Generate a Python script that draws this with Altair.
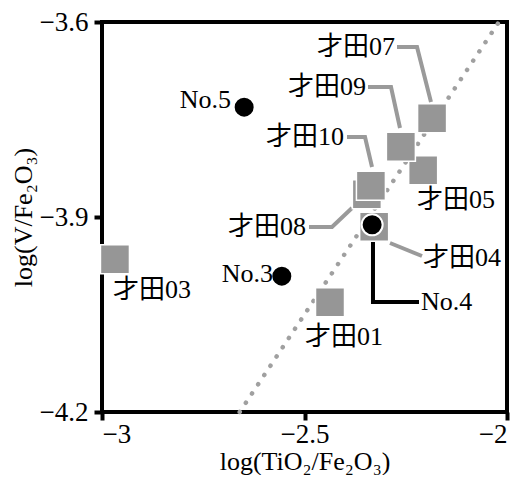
import altair as alt
import pandas as pd

FONT = '"Liberation Serif", "Noto Sans CJK JP", serif'
GRAY = "#969696"

# Squares (才田 samples) - drawing order matters for overlaps
sq_names = ["才田01", "才田03", "才田04", "才田05", "才田08", "才田10", "才田09", "才田07"]
sq_x = [-2.437, -2.968, -2.328, -2.207, -2.346, -2.336, -2.262, -2.185]
sq_y = [-4.031, -3.965, -3.915, -3.828, -3.865, -3.852, -3.792, -3.748]

# Circles (No. samples)
ci_names = ["No.3", "No.4", "No.5"]
ci_x = [-2.556, -2.333, -2.649]
ci_y = [-3.991, -3.912, -3.731]

# Dotted reference line
ref_x = [-2.66, -2.02]
ref_y = [-4.2, -3.6]

# Leader lines (label -> point)
lead_id = ["07", "07", "07", "09", "09", "09", "10", "10", "10", "08", "08", "08", "04", "04"]
lead_x = [-2.2716, -2.2222, -2.1877, -2.3432, -2.2864, -2.2642, -2.3951, -2.3506, -2.3333,
          -2.4889, -2.4321, -2.3827, -2.2889, -2.2099]
lead_y = [-3.6385, -3.6385, -3.7231, -3.700, -3.700, -3.7631, -3.7769, -3.7769, -3.8231,
          -3.9154, -3.9154, -3.8862, -3.940, -3.960]
no4_x = [-2.3309, -2.3309, -2.2173]
no4_y = [-3.9354, -4.0308, -4.0308]

# Labels
lab_r_text = ["才田07", "才田09", "才田10", "才田08", "No.5", "No.3"]
lab_r_x = [-2.2765, -2.3481, -2.4025, -2.4963, -2.6815, -2.5778]
lab_r_y = [-3.6385, -3.700, -3.7769, -3.9154, -3.720, -3.9877]
lab_l_text = ["才田04", "No.4", "才田05", "才田01", "才田03"]
lab_l_x = [-2.2074, -2.2123, -2.2222, -2.4988, -2.9728]
lab_l_y = [-3.963, -4.0308, -3.8738, -4.0846, -4.0123]

sq = pd.DataFrame({"name": sq_names, "x": sq_x, "y": sq_y, "o": range(len(sq_names))})
ci = pd.DataFrame({"name": ci_names, "x": ci_x, "y": ci_y})
ref = pd.DataFrame({"x": ref_x, "y": ref_y})
lead = pd.DataFrame({"id": lead_id, "x": lead_x, "y": lead_y, "o": range(len(lead_id))})
no4 = pd.DataFrame({"x": no4_x, "y": no4_y, "o": range(len(no4_x))})
lab_r = pd.DataFrame({"t": lab_r_text, "x": lab_r_x, "y": lab_r_y})
lab_l = pd.DataFrame({"t": lab_l_text, "x": lab_l_x, "y": lab_l_y})

xs = alt.Scale(domain=[-3, -2], nice=False, zero=False)
ys = alt.Scale(domain=[-4.2, -3.6], nice=False, zero=False)

X = alt.X("x:Q", scale=xs, title="log(TiO₂/Fe₂O₃)",
          axis=alt.Axis(values=[-3, -2.5, -2], format="~g", labelPadding=1, titlePadding=1))
Y = alt.Y("y:Q", scale=ys, title="log(V/Fe₂O₃)",
          axis=alt.Axis(values=[-4.2, -3.9, -3.6], format=".1f", labelPadding=6, titlePadding=3))

refline = alt.Chart(ref).mark_line(
    color="#a0a0a0", strokeWidth=4.5, strokeDash=[0.1, 11], strokeCap="round"
).encode(x=X, y=Y)

leaders = alt.Chart(lead).mark_line(color="#9a9a9a", strokeWidth=4, strokeJoin="miter").encode(
    x=alt.X("x:Q", scale=xs), y=alt.Y("y:Q", scale=ys), detail="id:N", order="o:Q")

no4line = alt.Chart(no4).mark_line(color="black", strokeWidth=4, strokeJoin="miter").encode(
    x=alt.X("x:Q", scale=xs), y=alt.Y("y:Q", scale=ys), order="o:Q")

squares = alt.Chart(sq).mark_square(
    size=841, color=GRAY, opacity=1, stroke="white", strokeWidth=1.5, filled=True
).encode(x=alt.X("x:Q", scale=xs), y=alt.Y("y:Q", scale=ys), order="o:Q")

circles = alt.Chart(ci).mark_circle(
    size=441, color="black", opacity=1, stroke="white", strokeWidth=2
).encode(x=alt.X("x:Q", scale=xs), y=alt.Y("y:Q", scale=ys))

text_r = alt.Chart(lab_r).mark_text(
    align="right", baseline="middle", font=FONT, fontSize=26, color="black"
).encode(x=alt.X("x:Q", scale=xs), y=alt.Y("y:Q", scale=ys), text="t:N")

text_l = alt.Chart(lab_l).mark_text(
    align="left", baseline="middle", font=FONT, fontSize=26, color="black"
).encode(x=alt.X("x:Q", scale=xs), y=alt.Y("y:Q", scale=ys), text="t:N")

chart = alt.layer(refline, leaders, no4line, squares, circles, text_r, text_l).properties(
    width=405, height=390,
    autosize=alt.AutoSizeParams(type="none"),
    padding={"left": 94, "top": 14, "right": 6, "bottom": 63},
).configure_view(
    stroke="black", strokeWidth=4
).configure_axis(
    domain=False, grid=False,
    tickColor="black", tickWidth=4, tickSize=8,
    labelFont=FONT, labelFontSize=27, labelColor="black",
    titleFont=FONT, titleFontSize=26, titleColor="black", titleFontWeight="normal",
)

chart.save("out.html", embed_options={"renderer": "svg", "actions": False})
